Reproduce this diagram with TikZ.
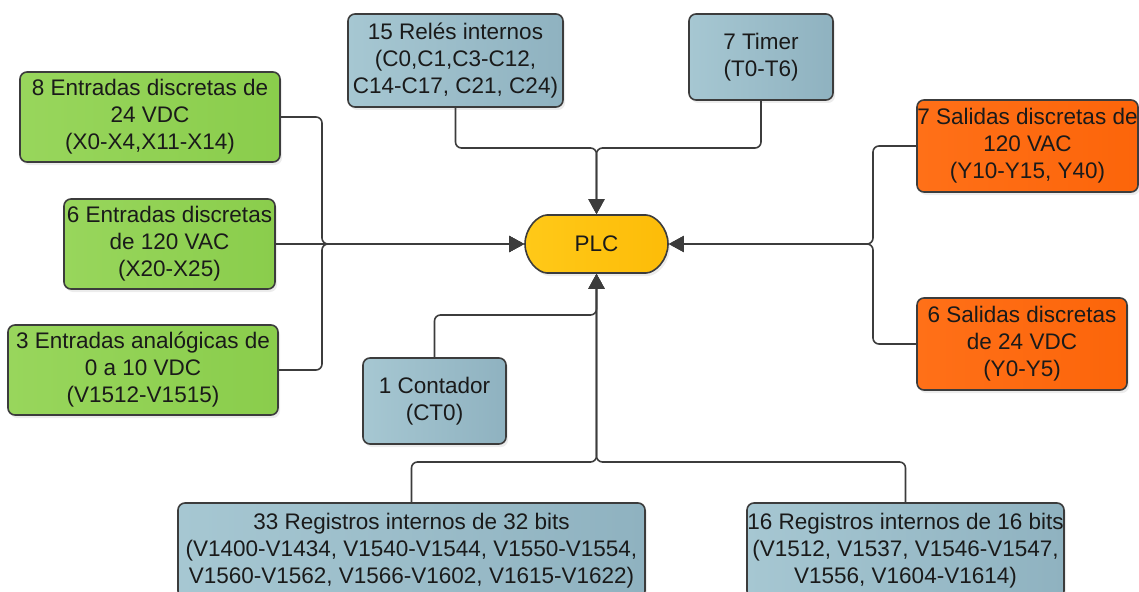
\documentclass[tikz,border=0pt]{standalone}
\usepackage{fontspec}
\setmainfont{Liberation Sans}
\usetikzlibrary{arrows.meta,shapes.misc,shadows}

\definecolor{edge}{HTML}{3C3C3C}
\definecolor{txt}{HTML}{1A1A1A}
\definecolor{greenA}{HTML}{98D65C}
\definecolor{greenB}{HTML}{8ACD4C}
\definecolor{blueA}{HTML}{A6C7D2}
\definecolor{blueB}{HTML}{8FB2C0}
\definecolor{orangeA}{HTML}{FF7018}
\definecolor{orangeB}{HTML}{FC650A}
\definecolor{yellowA}{HTML}{FFC918}
\definecolor{yellowB}{HTML}{FDBC08}

\tikzset{
  box/.style={draw=edge, line width=1.6pt, rounded corners=7pt, align=center,
    text=txt, inner sep=0pt, font=\fontsize{22.5}{27}\selectfont,
    drop shadow={opacity=0.15, shadow xshift=2pt, shadow yshift=-3pt}},
  inbox/.style={box, left color=greenA, right color=greenB},
  membox/.style={box, left color=blueA, right color=blueB},
  outbox/.style={box, left color=orangeA, right color=orangeB},
  cpu/.style={box, rounded rectangle, left color=yellowA, right color=yellowB},
  wire/.style={draw=edge, line width=1.6pt, rounded corners=6pt},
  feed/.style={wire, -{Triangle[length=15pt,width=16pt]}},
}

\begin{document}
\begin{tikzpicture}[x=1pt,y=-1pt]
\useasboundingbox (0,0) rectangle (1139,591);

% central controller
\node[cpu, minimum width=143pt, minimum height=58pt] (plc) at (596.5,244) {PLC};

% inputs
\node[inbox, minimum width=260pt, minimum height=90pt] (in24) at (150,117)
  {8 Entradas discretas de\\24 VDC\\(X0-X4,X11-X14)};
\node[inbox, minimum width=211pt, minimum height=90pt] (in120) at (169.5,244)
  {6 Entradas discretas\\de 120 VAC\\(X20-X25)};
\node[inbox, minimum width=270pt, minimum height=90pt] (ana) at (143,370)
  {3 Entradas analógicas de\\0 a 10 VDC\\(V1512-V1515)};

% internal memory
\node[membox, minimum width=215pt, minimum height=93pt] (rel) at (455.5,60.5)
  {15 Relés internos\\(C0,C1,C3-C12,\\C14-C17, C21, C24)};
\node[membox, minimum width=144pt, minimum height=86pt] (tim) at (761,57)
  {7 Timer\\(T0-T6)};
\node[membox, minimum width=143pt, minimum height=86pt] (cnt) at (434.5,401)
  {1 Contador\\(CT0)};
\node[membox, minimum width=467pt, minimum height=95pt] (r32) at (411.5,550.5)
  {33 Registros internos de 32 bits\\(V1400-V1434, V1540-V1544, V1550-V1554,\\V1560-V1562, V1566-V1602, V1615-V1622)};
\node[membox, minimum width=317pt, minimum height=95pt] (r16) at (905.5,550.5)
  {16 Registros internos de 16 bits\\(V1512, V1537, V1546-V1547,\\V1556, V1604-V1614)};

% outputs
\node[outbox, minimum width=221pt, minimum height=92pt] (out120) at (1027.5,146)
  {7 Salidas discretas de\\120 VAC\\(Y10-Y15, Y40)};
\node[outbox, minimum width=210pt, minimum height=92pt] (out24) at (1022,344)
  {6 Salidas discretas\\de 24 VDC\\(Y0-Y5)};

% bus junctions
\coordinate (lbus) at (322,244);
\coordinate (rbus) at (873,244);
\coordinate (tbus) at (596.5,148);
\coordinate (cbus) at (596.5,315);
\coordinate (bbus) at (596.5,462);

% connectors
\draw[feed] (in24.east) -| (lbus) -- (plc.west);
\draw[feed] (ana.east) -| (lbus) -- (plc.west);
\draw[feed] (in120.east) -- (plc.west);

\draw[feed] (out120.west) -| (rbus) -- (plc.east);
\draw[feed] (out24.west) -| (rbus) -- (plc.east);

\draw[feed] (rel.south) |- (tbus) -- (plc.north);
\draw[feed] (tim.south) |- (tbus) -- (plc.north);

\draw[feed] (cnt.north) |- (cbus) -- (plc.south);
\draw[feed] (r32.north) |- (bbus) -- (plc.south);
\draw[feed] (r16.north) |- (bbus) -- (plc.south);
\end{tikzpicture}
\end{document}
